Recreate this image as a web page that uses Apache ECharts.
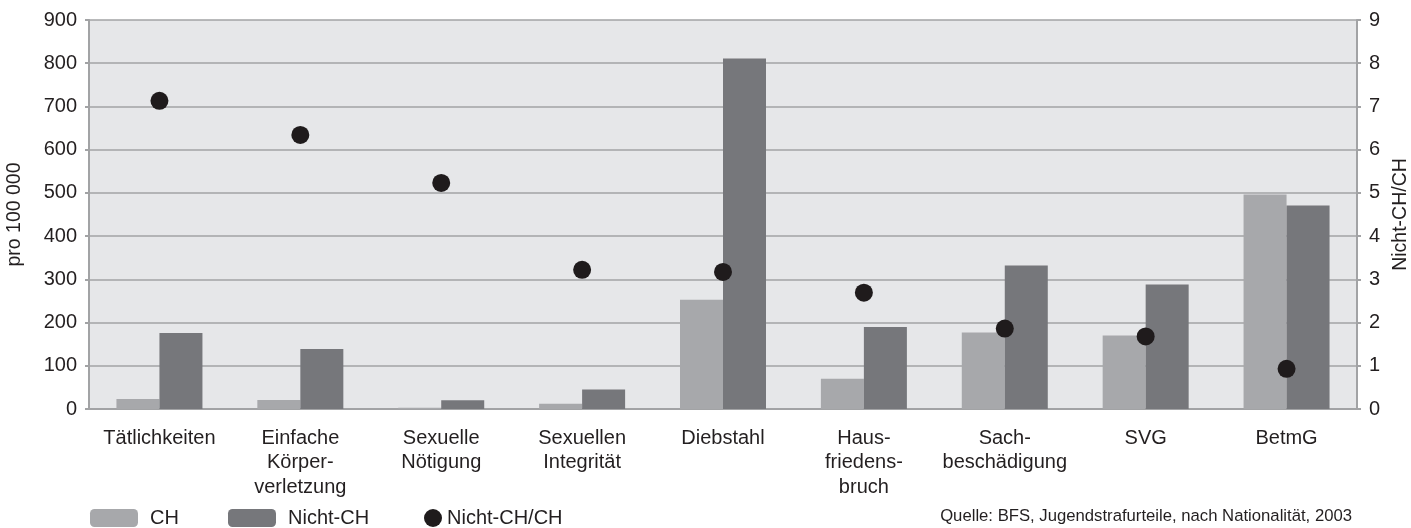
<!DOCTYPE html>
<html>
<head>
<meta charset="utf-8">
<script src="https://cdn.jsdelivr.net/npm/echarts@6/dist/echarts.min.js"></script>
<style>
    html, body { margin: 0; padding: 0; background: #fff; }
    #chart { width: 1411px; height: 528px; }
</style>
</head>
<body>
<div id="chart"></div>
<script>
// Jugendstrafurteile 2003, pro 100 000
const categories = [
    "Tätlichkeiten",
    "Einfache\nKörper-\nverletzung",
    "Sexuelle\nNötigung",
    "Sexuellen\nIntegrität",
    "Diebstahl",
    "Haus-\nfriedens-\nbruch",
    "Sach-\nbeschädigung",
    "SVG",
    "BetmG",
];
const chValues = [23, 21, 3, 12, 253, 70, 177, 170, 496];
const nichtChValues = [176, 139, 20, 45, 811, 190, 332, 288, 471];
const ratioValues = [7.13, 6.34, 5.23, 3.22, 3.17, 2.69, 1.86, 1.68, 0.93];

const font = "Liberation Sans, Arial, sans-serif";
const textColor = "#231f20";
const lineColor = "#a2a3a5";

const chart = echarts.init(document.getElementById("chart"));

const legendText = { fontSize: 20, color: textColor, padding: [0, 0, 0, 7] };

const option = {
    animation: false,
    textStyle: { fontFamily: font },
    grid: {
        left: 89,
        right: 54,
        top: 20,
        bottom: 119,
        outerBoundsMode: "none",
        show: true,
        backgroundColor: "#e6e7e9",
        borderWidth: 0,
    },
    legend: [
        {
            data: ["CH"],
            left: 90,
            top: 508,
            padding: 0,
            itemWidth: 48,
            itemHeight: 18,
            textStyle: legendText,
        },
        {
            data: ["Nicht-CH"],
            left: 228,
            top: 508,
            padding: 0,
            itemWidth: 48,
            itemHeight: 18,
            textStyle: legendText,
        },
        {
            data: [{ name: "Nicht-CH/CH", icon: "circle" }],
            left: 424,
            top: 508,
            padding: 0,
            itemWidth: 18,
            itemHeight: 18,
            textStyle: { fontSize: 20, color: textColor, padding: [0, 0, 0, 0] },
        },
    ],
    xAxis: {
        type: "category",
        data: categories,
        axisLine: { lineStyle: { color: lineColor, width: 2 } },
        axisTick: { show: false },
        axisLabel: {
            fontSize: 20,
            lineHeight: 24.5,
            color: textColor,
            margin: 17,
            interval: 0,
        },
    },
    yAxis: [
        {
            type: "value",
            min: 0,
            max: 900,
            interval: 100,
            name: "pro 100 000",
            nameLocation: "middle",
            nameGap: 64,
            nameTextStyle: { fontSize: 19.5, color: textColor },
            axisLine: { show: true, lineStyle: { color: lineColor, width: 2 } },
            axisTick: { show: true, length: 4, lineStyle: { color: lineColor, width: 2 } },
            axisLabel: { fontSize: 20, color: textColor, margin: 12 },
            splitLine: { lineStyle: { color: lineColor, width: 1.5 } },
        },
        {
            type: "value",
            min: 0,
            max: 9,
            interval: 1,
            name: "Nicht-CH/CH",
            nameLocation: "middle",
            nameGap: 34,
            nameRotate: 90,
            nameTextStyle: { fontSize: 19.5, color: textColor },
            axisLine: { show: true, lineStyle: { color: lineColor, width: 2 } },
            axisTick: { show: true, length: 4, lineStyle: { color: lineColor, width: 2 } },
            axisLabel: { fontSize: 20, color: textColor, margin: 12 },
            splitLine: { show: false },
        },
    ],
    series: [
        {
            name: "CH",
            type: "bar",
            data: chValues,
            barWidth: 43,
            barGap: "0%",
            itemStyle: { color: "#a7a8ab" },
        },
        {
            name: "Nicht-CH",
            type: "bar",
            data: nichtChValues,
            barWidth: 43,
            barGap: "0%",
            itemStyle: { color: "#76777b" },
        },
        {
            name: "Nicht-CH/CH",
            type: "scatter",
            yAxisIndex: 1,
            data: ratioValues,
            symbol: "circle",
            symbolSize: 18,
            itemStyle: { color: "#1f1b1c", opacity: 1 },
            z: 5,
        },
    ],
    graphic: [
        {
            type: "text",
            right: 59,
            top: 508,
            style: {
                text: "Quelle: BFS, Jugendstrafurteile, nach Nationalität, 2003",
                font: "16.7px " + font,
                fill: textColor,
            },
        },
    ],
};

chart.setOption(option);
</script>
</body>
</html>
